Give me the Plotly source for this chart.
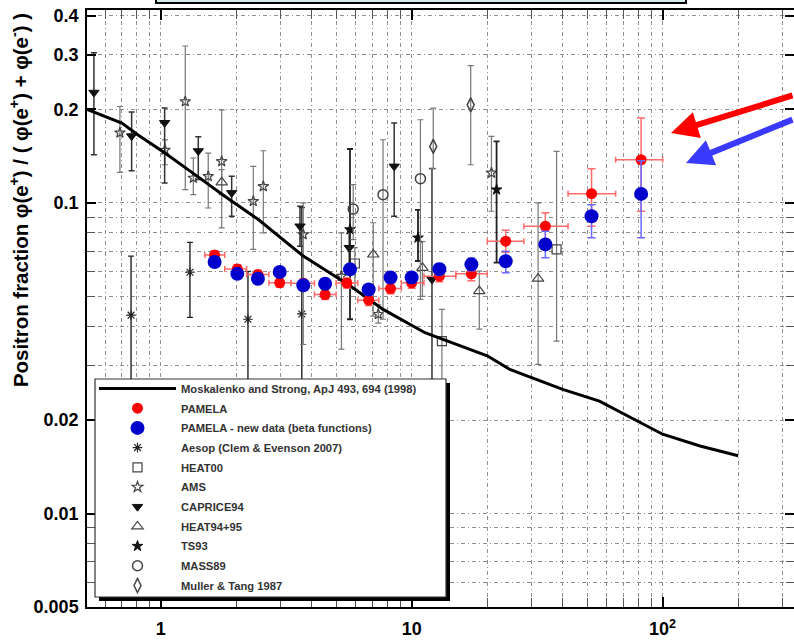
import plotly.graph_objects as go

# ---------------- data ----------------
# Moskalenko & Strong model curve
ms_x = [0.5, 0.7, 0.81, 1.04, 1.37, 1.8, 2.45, 3.7, 5.7, 7.7, 11.3, 20, 24.6, 40, 56, 74, 100, 141, 200]
ms_y = [0.201, 0.1807, 0.1657, 0.1447, 0.1233, 0.1050, 0.0884, 0.0674, 0.0540, 0.0454, 0.0382,
        0.0322, 0.0291, 0.0251, 0.0230, 0.0204, 0.0180, 0.0165, 0.01535]

# PAMELA (red)
pam_x = [1.64, 2.02, 2.44, 2.98, 3.70, 4.52, 5.52, 6.74, 8.24, 10.0, 12.9, 17.3, 23.7, 34.1, 52.1, 82.1]
pam_xlo = [1.5, 1.8, 2.2, 2.7, 3.3, 4.1, 5.0, 6.1, 7.4, 9.1, 11.2, 15, 20, 28, 42, 65]
pam_xhi = [1.8, 2.2, 2.7, 3.3, 4.1, 5.0, 6.1, 7.4, 9.1, 11.2, 15, 20, 28, 42, 65, 100]
pam_y = [0.0680, 0.0613, 0.0588, 0.0553, 0.0551, 0.0507, 0.0552, 0.0486, 0.0530, 0.0553, 0.0581,
         0.0591, 0.0753, 0.0841, 0.1071, 0.1377]
pam_hi = [0.0700, 0.0632, 0.0606, 0.0570, 0.0569, 0.0525, 0.0572, 0.0505, 0.0550, 0.0575, 0.0605,
          0.0620, 0.0817, 0.0929, 0.1289, 0.1876]
pam_lo = [0.0660, 0.0594, 0.0570, 0.0536, 0.0533, 0.0489, 0.0532, 0.0467, 0.0510, 0.0531, 0.0557,
          0.0562, 0.0694, 0.0762, 0.0841, 0.0940]

# PAMELA new data (blue)
new_x = [1.64, 2.02, 2.44, 2.98, 3.70, 4.52, 5.68, 6.74, 8.24, 10.0, 12.9, 17.3, 23.7, 34.1, 52.1, 82.1]
new_y = [0.0645, 0.0591, 0.0570, 0.0599, 0.0543, 0.0549, 0.0611, 0.0526, 0.0575, 0.0575, 0.0612,
         0.0634, 0.0649, 0.0735, 0.0906, 0.1069]
new_hi = [0.0662, 0.0607, 0.0585, 0.0615, 0.0558, 0.0565, 0.0630, 0.0545, 0.0595, 0.0597, 0.0638,
          0.0663, 0.0699, 0.0811, 0.0987, 0.1367]
new_lo = [0.0628, 0.0575, 0.0555, 0.0583, 0.0528, 0.0533, 0.0592, 0.0507, 0.0555, 0.0553, 0.0586,
          0.0605, 0.0596, 0.0666, 0.0772, 0.0772]

# Aesop (Clem & Evenson 2007)
aes_x = [0.762, 1.308, 2.227, 3.65]
aes_y = [0.0435, 0.0598, 0.0422, 0.0439]
aes_hi = [0.0674, 0.0746, 0.0602, 0.0966]
aes_lo = [0.020, 0.0428, 0.020, 0.020]

# HEAT00
h00_x = [5.94, 13.2, 37.8]
h00_y = [0.0638, 0.0359, 0.0708]
h00_hi = [0.0718, 0.0454, 0.1465]
h00_lo = [0.0527, 0.022, 0.0359]

# AMS
ams_x = [0.688, 1.04, 1.253, 1.349, 1.547, 1.750, 2.339, 2.564, 3.70, 5.25, 7.36, 20.8]
ams_y = [0.1681, 0.1480, 0.2120, 0.1203, 0.1218, 0.1360, 0.1012, 0.1130, 0.0791, 0.0581, 0.0438, 0.1249]
ams_hi = [0.2043, 0.1596, 0.3200, 0.1395, 0.1447, 0.1994, 0.1311, 0.1472, 0.1000, 0.0801, 0.0470, 0.1637]
ams_lo = [0.1254, 0.1327, 0.1103, 0.1063, 0.0963, 0.0831, 0.0708, 0.0801, 0.0350, 0.0338, 0.0410, 0.0940]

# CAPRICE94
cap_x = [0.542, 0.766, 1.037, 1.412, 1.918, 3.59, 5.64, 8.52, 12.05]
cap_y = [0.2266, 0.1641, 0.1811, 0.1469, 0.1077, 0.0841, 0.0717, 0.1311, 0.0567]
cap_hi = [0.3046, 0.1960, 0.2020, 0.1633, 0.1218, 0.0975, 0.0821, 0.1807, 0.129]
cap_lo = [0.1429, 0.1270, 0.1159, 0.1189, 0.0906, 0.0725, 0.0634, 0.0906, 0.027]

# HEAT94+95
h95_x = [1.750, 7.03, 11.04, 18.6, 31.9]
h95_y = [0.1165, 0.0682, 0.0618, 0.0520, 0.0570]
h95_hi = [0.1279, 0.0863, 0.0750, 0.0603, 0.1000]
h95_lo = [0.1063, 0.0432, 0.0500, 0.0392, 0.0302]

# TS93
ts_x = [5.68, 10.6, 21.8]
ts_y = [0.0821, 0.0772, 0.1103]
ts_hi = [0.1491, 0.0950, 0.1577]
ts_lo = [0.0422, 0.0650, 0.0642]

# MASS89
mas_x = [5.85, 7.69, 10.84]
mas_y = [0.0955, 0.1063, 0.1197]
mas_hi = [0.1145, 0.1597, 0.1852]
mas_lo = [0.0762, 0.0422, 0.0489]

# Muller & Tang 1987
mt_x = [12.19, 17.19]
mt_y = [0.1520, 0.2069]
mt_hi = [0.2019, 0.2767]
mt_lo = [0.129, 0.1327]

x_major = [1, 10, 100]
x_major_text = ["1", "10", "10<sup>2</sup>"]
x_minor = [0.6, 0.7, 0.8, 0.9, 2, 3, 4, 5, 6, 7, 8, 9, 20, 30, 40, 50, 60, 70, 80, 90, 200, 300]
y_major = [0.005, 0.01, 0.02, 0.1, 0.2, 0.3, 0.4]
y_major_text = ["0.005", "0.01", "0.02", "0.1", "0.2", "0.3", "0.4"]
y_minor = [0.006, 0.007, 0.008, 0.009, 0.03, 0.04, 0.05, 0.06, 0.07, 0.08, 0.09]

legend_names = {
    "ms": "Moskalenko and Strong, ApJ 493, 694 (1998)",
    "pam": "PAMELA",
    "new": "PAMELA - new data (beta functions)",
    "aes": "Aesop (Clem & Evenson 2007)",
    "h00": "HEAT00",
    "ams": "AMS",
    "cap": "CAPRICE94",
    "h95": "HEAT94+95",
    "ts": "TS93",
    "mas": "MASS89",
    "mt": "Muller & Tang 1987",
}


def yerr(y, hi, lo, color, thick=1.2, width=3):
    return dict(type="data", symmetric=False,
                array=[h - v for h, v in zip(hi, y)],
                arrayminus=[v - l for v, l in zip(y, lo)],
                color=color, thickness=thick, width=width)


fig = go.Figure()

def exp_trace(key, x, y, hi, lo, symbol, size, mcolor, ecolor, rank, lw=1.2, ethick=1.2):
    fig.add_trace(go.Scatter(
        x=x, y=y, mode="markers", name=legend_names[key], legendrank=rank, legendgroup=key,
        marker=dict(symbol=symbol, size=size, color=mcolor, line=dict(color=mcolor, width=lw)),
        error_y=yerr(y, hi, lo, ecolor, ethick)))

exp_trace("aes", aes_x, aes_y, aes_hi, aes_lo, "asterisk-open", 8, "#222", "#222", 4, 1.2, 1.4)
exp_trace("h00", h00_x, h00_y, h00_hi, h00_lo, "square-open", 9, "#444", "#777", 5)
exp_trace("ams", ams_x, ams_y, ams_hi, ams_lo, "star-open", 8, "#444", "#777", 6)
exp_trace("cap", cap_x, cap_y, cap_hi, cap_lo, "triangle-down", 9, "#111", "#333", 7, 1, 1.5)
exp_trace("h95", h95_x, h95_y, h95_hi, h95_lo, "triangle-up-open", 10, "#444", "#777", 8)
exp_trace("ts", ts_x, ts_y, ts_hi, ts_lo, "star", 8, "#111", "#222", 9, 1, 1.8)
exp_trace("mas", mas_x, mas_y, mas_hi, mas_lo, "circle-open", 10, "#444", "#777", 10, 1.5)
exp_trace("mt", mt_x, mt_y, mt_hi, mt_lo, "diamond-tall-open", 10, "#444", "#777", 11, 1.5)

fig.add_trace(go.Scatter(x=ms_x, y=ms_y, mode="lines", name=legend_names["ms"], legendrank=1,
                         legendgroup="ms", line=dict(color="black", width=3)))

fig.add_trace(go.Scatter(
    x=pam_x, y=pam_y, mode="markers", name=legend_names["pam"], legendrank=2, legendgroup="pam",
    marker=dict(symbol="circle", size=11, color="#ff0000"),
    error_y=yerr(pam_y, pam_hi, pam_lo, "#ff6a6a", 1.5, 4),
    error_x=dict(type="data", symmetric=False,
                 array=[h - v for h, v in zip(pam_xhi, pam_x)],
                 arrayminus=[v - l for v, l in zip(pam_x, pam_xlo)],
                 color="#ff6a6a", thickness=1.5, width=3)))

fig.add_trace(go.Scatter(
    x=new_x, y=new_y, mode="markers", name=legend_names["new"], legendrank=3, legendgroup="new",
    marker=dict(symbol="circle", size=14, color="#0000cc"),
    error_y=yerr(new_y, new_hi, new_lo, "#6a6aff", 1.5, 4)))

grid_dash = "4px,3px,1px,3px"
axis_font = dict(family="Liberation Sans, Arial", size=18, color="black", weight="bold")

fig.update_xaxes(
    type="log", range=[-0.2936, 2.5235], automargin=False,
    tickmode="array", tickvals=x_major, ticktext=x_major_text,
    ticks="inside", ticklen=10, tickwidth=2, tickcolor="black",
    showline=True, linecolor="black", linewidth=1.5, mirror="ticks",
    showgrid=True, gridcolor="#8f8f8f", gridwidth=1, griddash=grid_dash,
    tickfont=axis_font, ticklabelstandoff=5,
    minor=dict(tickvals=x_minor, ticks="inside", ticklen=9, tickwidth=1, tickcolor="#555",
               showgrid=True, gridcolor="#8f8f8f", gridwidth=1, griddash=grid_dash),
    zeroline=False)

fig.update_yaxes(
    type="log", range=[-2.301, -0.379], automargin=False,
    tickmode="array", tickvals=y_major, ticktext=y_major_text,
    ticks="inside", ticklen=9, tickwidth=2, tickcolor="black",
    showline=True, linecolor="black", linewidth=1.5, mirror="ticks",
    showgrid=True, gridcolor="#8f8f8f", gridwidth=1, griddash=grid_dash,
    tickfont=axis_font, ticklabelstandoff=3,
    minor=dict(tickvals=y_minor, ticks="inside", ticklen=8, tickwidth=1, tickcolor="#555",
               showgrid=True, gridcolor="#8f8f8f", gridwidth=1, griddash=grid_dash),
    zeroline=False)

H = 643
W = 794
ml, mr, mt_, mb = 87, 0, 10, 36
pw = W - ml - mr
ph = H - mt_ - mb

def px_x(p):
    return (p - ml) / pw

def px_y(p):
    return (H - mb - p) / ph

shapes = [
    # title box at the very top (cut off)
    dict(type="rect", xref="paper", yref="paper", x0=px_x(156), x1=px_x(686), y0=px_y(3), y1=px_y(-10),
         fillcolor="#d2eeee", line=dict(color="black", width=2), layer="above"),
    # legend shadow
    dict(type="rect", xref="paper", yref="paper", x0=px_x(99), x1=px_x(450), y0=px_y(601), y1=px_y(383),
         fillcolor="black", line=dict(width=0), layer="above"),
    # legend box
    dict(type="rect", xref="paper", yref="paper", x0=px_x(95), x1=px_x(446), y0=px_y(597), y1=px_y(379),
         fillcolor="white", line=dict(color="#333", width=1.2), layer="above"),
]

annotations = [
    dict(text="<b>Positron fraction φ(e<sup>+</sup>) / ( φ(e<sup>+</sup>) + φ(e<sup>-</sup>) )</b>",
         xref="paper", yref="paper", x=px_x(19), y=px_y(200), textangle=-90, showarrow=False,
         font=dict(family="Liberation Sans, Arial", size=20.4, color="black"),
         xanchor="center", yanchor="middle"),
    dict(text="", xref="paper", yref="paper", x=px_x(671), y=px_y(133), showarrow=True,
         ax=140, ay=-38, arrowcolor="#ff0000", arrowwidth=6, arrowhead=2, arrowsize=0.9),
    dict(text="", xref="paper", yref="paper", x=px_x(686), y=px_y(163), showarrow=True,
         ax=120, ay=-44, arrowcolor="#3a3aff", arrowwidth=6, arrowhead=2, arrowsize=0.9),
]

fig.update_layout(
    width=W, height=H,
    margin=dict(l=ml, r=mr, t=mt_, b=mb, autoexpand=False),
    plot_bgcolor="white", paper_bgcolor="white",
    shapes=shapes, annotations=annotations,
    showlegend=True,
    legend=dict(x=px_x(94), y=px_y(374), xanchor="left", yanchor="top",
                bgcolor="rgba(0,0,0,0)", borderwidth=0, traceorder="grouped",
                font=dict(family="Liberation Sans, Arial", size=11.2, color="#333", weight="bold"),
                itemwidth=77, tracegroupgap=0.7),
)

fig.write_html("out.html", config={"displayModeBar": False},
               post_script="document.body.style.margin='0';")
